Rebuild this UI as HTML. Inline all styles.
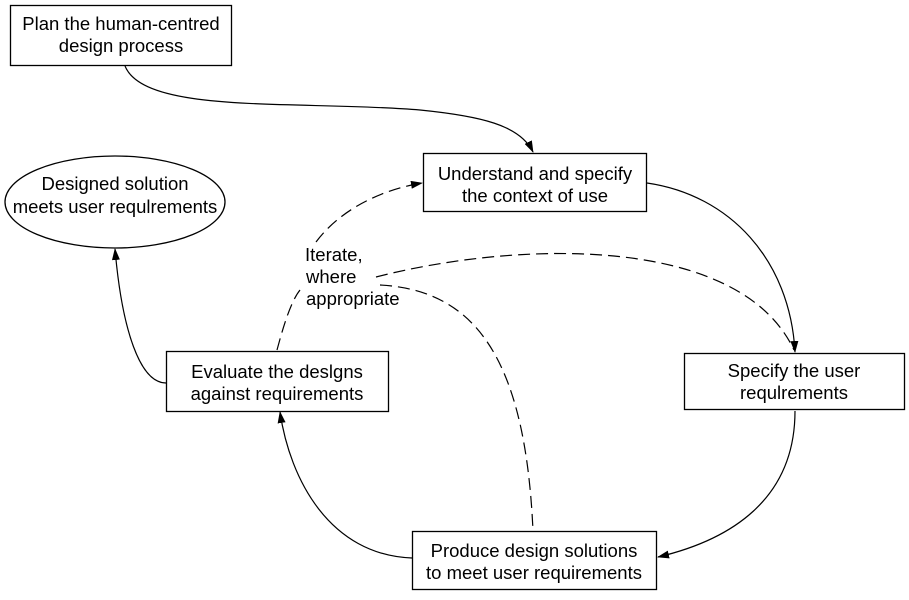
<!DOCTYPE html>
<html><head><style>
body{margin:0;background:#fff;}
svg text{font-family:"Liberation Sans",Arial,sans-serif;font-size:18.5px;fill:#000;}
</style></head><body>
<svg width="909" height="595" viewBox="0 0 909 595" xmlns="http://www.w3.org/2000/svg">
<defs><marker id="a" markerWidth="12" markerHeight="8" refX="11" refY="4" orient="auto" markerUnits="userSpaceOnUse"><path d="M0,0 L12,4 L0,8 z" fill="#000"/></marker></defs>
<g fill="#fff" stroke="#000" stroke-width="1.3">
<rect x="10.5" y="5.5" width="221" height="60"/>
<ellipse cx="115" cy="202" rx="110" ry="46"/>
<rect x="423.5" y="153.5" width="223" height="58"/>
<rect x="684.5" y="353.5" width="220" height="56"/>
<rect x="412.5" y="531.5" width="244" height="58"/>
<rect x="166.5" y="351.5" width="222" height="60"/>
</g>
<g fill="none" stroke="#000" stroke-width="1.2">
<path d="M125,66 C145,115 300,100 420,110 C480,116 520,125 533,152" marker-end="url(#a)"/>
<path d="M647,183 C730,195 790,260 795,352" marker-end="url(#a)"/>
<path d="M795,411 C795,500 730,540 658,557" marker-end="url(#a)"/>
<path d="M412,558 C330,555 290,480 280,412" marker-end="url(#a)"/>
<path d="M166,383 C140,383 122,330 115,249" marker-end="url(#a)"/>
<g stroke-dasharray="12,6">
<path d="M277,350 C285,320 292,300 300,290"/>
<path d="M316,242 C340,210 380,190 422,183" marker-end="url(#a)"/>
<path d="M376,277 C520,240 740,235 794,350"/>
<path d="M380,285 C470,290 525,350 533,531"/>
</g>
</g>
<g text-anchor="middle">
<text x="121" y="30">Plan the human-centred</text>
<text x="121" y="52">design process</text>
<text x="115" y="190">Designed solution</text>
<text x="115" y="213">meets user requlrements</text>
<text x="535" y="180">Understand and specify</text>
<text x="535" y="202">the context of use</text>
<text x="794" y="377">Specify the user</text>
<text x="794" y="399">requlrements</text>
<text x="534" y="557">Produce design solutions</text>
<text x="534" y="579">to meet user requirements</text>
<text x="277" y="378">Evaluate the deslgns</text>
<text x="277" y="400">against requirements</text>
</g>
<text x="305" y="261">Iterate,</text>
<text x="306" y="283">where</text>
<text x="306" y="305">appropriate</text>
</svg>
</body></html>
